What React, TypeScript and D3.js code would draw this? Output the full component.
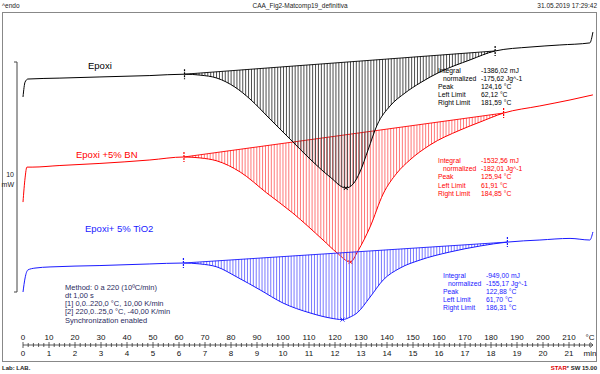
import * as d3 from "d3";

// DSC curves, temperature in °C and heat flow in mW (endo up)
const epoxiT = [0, 0.8, 1.9, 14.2, 29.6, 48.8, 62.12, 68.1, 74.6, 81.5, 87.3, 95, 102.7, 110.4, 118.1, 124.16, 127, 129.6, 132.7, 136.2, 141.2, 146.9, 152.7, 160.4, 171.9, 181.59, 195, 206.5, 218, 219.2];
const epoxiMW = [8.48, 9.13, 9.26, 9.3, 9.35, 9.41, 9.47, 9.43, 9.3, 8.91, 8.39, 7.52, 6.65, 5.78, 5.0, 4.52, 4.7, 5.22, 6.17, 7.26, 8.09, 8.65, 9.09, 9.57, 10.09, 10.48, 10.65, 10.74, 10.83, 11.3];

const bnT = [0, 0.8, 1.5, 3.5, 14.2, 29.6, 48.8, 61.91, 68.1, 74.6, 83.5, 93.8, 103.8, 115.4, 120.8, 125.94, 128.8, 133.5, 138.5, 143.8, 148.8, 156.5, 168.1, 175.8, 184.85, 198.8, 210.4, 219.2];
const bnMW = [3.91, 4.96, 5.43, 5.43, 5.5, 5.59, 5.74, 5.87, 5.83, 5.7, 5.22, 4.3, 3.43, 2.26, 1.7, 1.3, 1.78, 2.83, 4.26, 5.17, 5.74, 6.39, 7.04, 7.39, 7.78, 8.09, 8.35, 8.57];

const tioT = [0, 0.8, 1.9, 4.6, 10.4, 29.6, 48.8, 61.7, 68.1, 74.6, 82.3, 91.2, 100, 110.4, 118.1, 122.88, 125.8, 128.5, 133.5, 138.5, 145, 152.7, 164.2, 175.8, 186.31, 198.8, 210.4, 218, 219.2];
const tioMW = [0, 0.61, 0.96, 1.04, 1.09, 1.15, 1.22, 1.26, 1.22, 1.09, 0.65, 0.09, -0.48, -0.91, -1.13, -1.2, -1.09, -0.91, -0.22, 0.52, 1.04, 1.39, 1.74, 2.0, 2.17, 2.26, 2.33, 2.26, 2.61];

// integration limits and peaks [left, right, peak]
const epoxiLimits = [62.12, 181.59, 124.16];
const bnLimits = [61.91, 184.85, 125.94];
const tioLimits = [61.7, 186.31, 122.88];

const infoLabels = ["Integral", "normalized", "Peak", "Left Limit", "Right Limit"];
const epoxiInfo = ["-1386,02 mJ", "-175,62 Jg^-1", "124,16 °C", "62,12 °C", "181,59 °C"];
const bnInfo = ["-1532,56 mJ", "-182,01 Jg^-1", "125,94 °C", "61,91 °C", "184,85 °C"];
const tioInfo = ["-949,00 mJ", "-155,17 Jg^-1", "122,88 °C", "61,70 °C", "186,31 °C"];

const methodLines = [
  "Method: 0 a 220 (10ºC/min)",
  "dt 1,00 s",
  "[1] 0,0..220,0 °C, 10,00 K/min",
  "[2] 220,0..25,0 °C, -40,00 K/min",
  "Synchronization enabled",
];

const tempTicks = d3.range(0, 220, 10);
const minorTicks = d3.range(0, 220, 2);

const W = 600;
const H = 374;
const font = "'Liberation Sans', Arial, sans-serif";

const x = d3.scaleLinear().domain([0, 220]).range([23, 595]);
const y = d3.scaleLinear().domain([0, 10]).range([292, 62]);

type Pt = { t: number; v: number };

const line = d3
  .line<Pt>()
  .x(d => x(d.t))
  .y(d => y(d.v))
  .curve(d3.curveMonotoneX);

function Curve({
  id,
  ts,
  vs,
  lim,
  color,
  hatch,
  info,
  infoX,
  valX,
  infoY,
}: {
  id: string;
  ts: number[];
  vs: number[];
  lim: number[];
  color: string;
  hatch: string;
  info: string[];
  infoX: number;
  valX: number;
  infoY: number;
}) {
  const pts: Pt[] = ts.map((t, i) => ({ t, v: vs[i] }));
  const [lo, hi, pk] = lim;
  const pLo = pts.find(p => p.t === lo)!;
  const pHi = pts.find(p => p.t === hi)!;
  const pPk = pts.find(p => p.t === pk)!;
  const base = d3.scaleLinear().domain([lo, hi]).range([pLo.v, pHi.v]);
  const inside = pts.filter(p => p.t >= lo && p.t <= hi);
  const area = d3
    .area<Pt>()
    .x(d => x(d.t))
    .y0(d => y(base(d.t)))
    .y1(d => y(d.v))
    .curve(d3.curveMonotoneX);
  const hatchX = d3.range(lo, hi, 1.12);
  const px = x(pPk.t);
  const py = y(pPk.v);
  return (
    <g>
      <defs>
        <clipPath id={"clip-" + id}>
          <path d={area(inside) ?? ""} />
        </clipPath>
      </defs>
      <g clipPath={`url(#clip-${id})`}>
        {hatchX.map((t, i) => (
          <line key={i} x1={x(t)} x2={x(t)} y1={0} y2={H} stroke={hatch} strokeWidth={0.9} />
        ))}
      </g>
      <line x1={x(lo)} y1={y(pLo.v)} x2={x(hi)} y2={y(pHi.v)} stroke={color} strokeWidth={0.9} />
      <path d={line(pts) ?? ""} fill="none" stroke={color} strokeWidth={1} />
      {[pLo, pHi].map((p, i) => (
        <line
          key={i}
          x1={x(p.t)}
          x2={x(p.t)}
          y1={y(p.v) - 5}
          y2={y(p.v) + 5}
          stroke={color}
          strokeWidth={1.2}
          strokeDasharray="2,1"
        />
      ))}
      <path
        d={`M${px - 2},${py - 2}L${px + 2},${py + 2}M${px + 2},${py - 2}L${px - 2},${py + 2}`}
        stroke={color}
        strokeWidth={0.9}
      />
      {infoLabels.map((l, i) => (
        <g key={i} fontSize={6.8} fill={color}>
          <text x={infoX + (i === 1 ? 5 : 0)} y={infoY + i * 8.2}>
            {l}
          </text>
          <text x={valX} y={infoY + i * 8.2}>
            {info[i]}
          </text>
        </g>
      ))}
    </g>
  );
}

export default function App() {
  const axisY = 345;
  return (
    <svg width={W} height={H} style={{ position: "absolute", left: 0, top: 0 }} fontFamily={font}>
      <rect width={W} height={H} fill="#fff" />
      {/* header */}
      <text x={2} y={8} fontSize={6.5} fill="#222">^endo</text>
      <text x={300} y={8} fontSize={6.5} fill="#222" textAnchor="middle">CAA_Fig2-Matcomp19_definitiva</text>
      <text x={597} y={8} fontSize={6.5} fill="#222" textAnchor="end">31.05.2019 17:29:42</text>
      {/* frame */}
      <rect x={2.5} y={12.5} width={594} height={349} fill="none" stroke="#888" strokeWidth={1} />
      {/* mW scale bar */}
      <path d={`M14,${y(10)}H17V${y(0)}H14`} fill="none" stroke="#444" strokeWidth={1} />
      <text x={14} y={177} fontSize={7} textAnchor="end" fill="#222">10</text>
      <text x={14} y={187} fontSize={7} textAnchor="end" fill="#222">mW</text>

      <Curve id="bn" ts={bnT} vs={bnMW} lim={bnLimits} color="#ff0000" hatch="#ff6a6a" info={bnInfo} infoX={438} valX={481} infoY={163} />
      <Curve id="tio" ts={tioT} vs={tioMW} lim={tioLimits} color="#1a1aff" hatch="#6a6aff" info={tioInfo} infoX={443} valX={486} infoY={277.5} />
      <Curve id="epoxi" ts={epoxiT} vs={epoxiMW} lim={epoxiLimits} color="#000" hatch="#3a3a3a" info={epoxiInfo} infoX={438} valX={481} infoY={72.5} />

      <text x={88} y={69} fontSize={9.5} fill="#000">Epoxi</text>
      <text x={76} y={158} fontSize={9.5} fill="#ff0000">Epoxi +5% BN</text>
      <text x={85} y={232} fontSize={9.5} fill="#1a1aff">Epoxi+ 5% TiO2</text>

      {methodLines.map((l, i) => (
        <text key={i} x={65} y={289.5 + i * 8.3} fontSize={7.5} fill="#2b2b5e">{l}</text>
      ))}

      {/* x axis */}
      <line x1={x(0)} x2={593} y1={axisY} y2={axisY} stroke="#333" strokeWidth={0.8} />
      <path d={`M590,${axisY - 2.5}L593,${axisY}L590,${axisY + 2.5}`} fill="none" stroke="#333" strokeWidth={0.8} />
      {minorTicks.map(t => (
        <line key={t} x1={x(t)} x2={x(t)} y1={axisY - (t % 10 === 0 ? 3 : 2)} y2={axisY + (t % 10 === 0 ? 3 : 2)} stroke="#333" strokeWidth={0.8} />
      ))}
      {tempTicks.map(t => (
        <g key={t} fontSize={8} fill="#111" textAnchor="middle">
          <text x={x(t)} y={340}>{t}</text>
          <text x={x(t)} y={356}>{t / 10}</text>
        </g>
      ))}
      <text x={590} y={340} fontSize={8} fill="#111" textAnchor="middle">°C</text>
      <text x={590} y={356} fontSize={8} fill="#111" textAnchor="middle">min</text>

      {/* footer */}
      <text x={2} y={370} fontSize={6} fontWeight="bold" fill="#222">Lab: LAB.</text>
      <text x={597} y={370} fontSize={6} fontWeight="bold" textAnchor="end" fill="#222">
        <tspan fill="#d00">STAR</tspan>
        <tspan fontSize={4} dy={-2}>e</tspan>
        <tspan dy={2}> SW 15.00</tspan>
      </text>
    </svg>
  );
}
